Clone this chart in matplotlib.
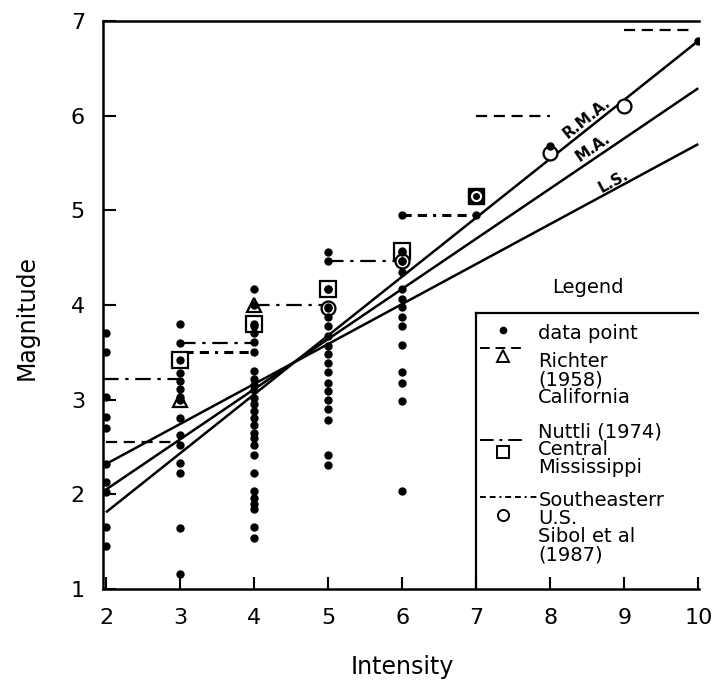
import numpy as np
import matplotlib
matplotlib.use('Agg')
import matplotlib.pyplot as plt

# Observed magnitudes for each intensity class
pts_i2 = [3.7, 3.5, 3.03, 2.82, 2.7, 2.32, 2.13, 2.02, 1.65, 1.45]
pts_i3 = [3.8, 3.6, 3.28, 3.2, 3.11, 3.03, 2.81, 2.63, 2.52, 2.33, 2.23, 1.64, 1.16]
pts_i4 = [4.17, 3.78, 3.70, 3.61, 3.50, 3.30, 3.22, 3.15, 3.10, 3.02, 2.95, 2.88,
          2.81, 2.73, 2.65, 2.59, 2.52, 2.42, 2.23, 2.04, 1.96, 1.90, 1.84, 1.65, 1.54]
pts_i5 = [4.56, 4.46, 4.17, 3.98, 3.87, 3.78, 3.67, 3.57, 3.48, 3.39, 3.29, 3.18,
          3.09, 3.00, 2.90, 2.79, 2.42, 2.31]
pts_i6 = [4.95, 4.56, 4.46, 4.35, 4.17, 4.06, 3.98, 3.87, 3.78, 3.58, 3.29, 3.18, 2.99, 2.03]
pts_i7 = [4.95, 5.15]
pts_i8 = [5.68]
pts_i10 = [6.79]

# Published relations
richter_i = [3, 4]
richter_m = [3.0, 4.0]
nuttli_i = [3, 4, 5, 6]
nuttli_m = [3.42, 3.80, 4.17, 4.57]
se_i = [5, 6, 8, 9]
se_m = [3.97, 4.46, 5.61, 6.1]
both_i = [7]
both_m = [5.15]

# Step levels (start intensity, end intensity, magnitude)
richter_steps = [(2, 3, 2.55), (7, 8, 6.0), (9, 9.9, 6.9)]
nuttli_steps = [(1.96, 3, 3.22), (3, 4, 3.6), (4, 5, 4.0), (5, 6, 4.46)]
se_steps = [(3.05, 4, 3.5), (6, 7, 4.95)]

# Fitted lines, end values at intensity 2 and 10
fit_i = [2, 10]
fit_rma = [1.81, 6.79]
fit_ma = [2.05, 6.29]
fit_ls = [2.32, 5.70]

RICHTER_DASH = (5, 3)
NUTTLI_DASH = (7, 3, 1.5, 3)
SE_DASH = (3, 2, 3, 2, 1, 2)

fig = plt.figure(figsize=(7.18, 6.82), dpi=100)
ax = fig.add_axes([103 / 718, 1 - 589 / 682, 596 / 718, 568 / 682])

columns = [(2, pts_i2), (3, pts_i3), (4, pts_i4), (5, pts_i5), (6, pts_i6),
           (7, pts_i7), (8, pts_i8), (10, pts_i10)]
for xi, vals in columns:
    ax.plot([xi] * len(vals), vals, 'o', color='black', ms=5, zorder=5)

for x0, x1, m in richter_steps:
    ax.plot([x0, x1], [m, m], color='black', lw=1.6, dashes=RICHTER_DASH)
for x0, x1, m in nuttli_steps:
    ax.plot([x0, x1], [m, m], color='black', lw=1.6, dashes=NUTTLI_DASH)
for x0, x1, m in se_steps:
    ax.plot([x0, x1], [m, m], color='black', lw=2.2, dashes=SE_DASH)

for vals in (fit_rma, fit_ma, fit_ls):
    ax.plot(fit_i, vals, color='black', lw=1.8, solid_capstyle='butt')

ax.plot(richter_i, richter_m, '^', ms=10, mfc='white', mec='black', mew=1.6, ls='none', zorder=4)
ax.plot(nuttli_i, nuttli_m, 's', ms=11, mfc='white', mec='black', mew=1.6, ls='none', zorder=4)
ax.plot(se_i, se_m, 'o', ms=10, mfc='white', mec='black', mew=1.6, ls='none', zorder=4)
ax.plot(both_i, both_m, 's', ms=11, mfc='black', mec='black', ls='none', zorder=4)
ax.plot(both_i, both_m, 'o', ms=7, mfc='white', mec='white', ls='none', zorder=5)
ax.plot(both_i, both_m, 'o', ms=4, color='black', ls='none', zorder=6)
# dots sitting inside the open symbols
ax.plot(richter_i + nuttli_i + se_i[:2], richter_m + nuttli_m + se_m[:2], 'o',
        color='black', ms=5, zorder=6)

# labels along the fitted lines
for label, vals, lx, ly in (('R.M.A.', fit_rma, 8.49, 5.97),
                            ('M.A.', fit_ma, 8.58, 5.66),
                            ('L.S.', fit_ls, 8.85, 5.30)):
    slope = (vals[1] - vals[0]) / (fit_i[1] - fit_i[0])
    ax.text(lx, ly, label, rotation=np.degrees(np.arctan(slope)),
            transform_rotates_text=True, rotation_mode='anchor',
            ha='center', va='center', fontsize=11, fontweight='bold')

# legend panel
ax.plot([7, 7], [1, 3.92], color='black', lw=1.6)
ax.plot([7, 10], [3.92, 3.92], color='black', lw=1.6)
ax.text(8.51, 4.19, 'Legend', ha='center', va='center', fontsize=14)
leg_kw = dict(ha='left', va='center', fontsize=14)
ax.plot(7.36, 3.74, 'o', color='black', ms=4.5)
ax.plot([7.05, 7.66], [3.55, 3.55], color='black', lw=1.4, dashes=RICHTER_DASH)
ax.text(7.84, 3.70, 'data point', **leg_kw)
ax.plot(7.36, 3.46, '^', ms=8, mfc='white', mec='black', mew=1.4)
for txt, yy in (('Richter', 3.40), ('(1958)', 3.21), ('California', 3.02)):
    ax.text(7.84, yy, txt, **leg_kw)
ax.plot([7.05, 7.66], [2.57, 2.57], color='black', lw=1.4, dashes=NUTTLI_DASH)
ax.plot(7.36, 2.45, 's', ms=8, mfc='white', mec='black', mew=1.4)
for txt, yy in (('Nuttli (1974)', 2.66), ('Central', 2.47), ('Mississippi', 2.28)):
    ax.text(7.84, yy, txt, **leg_kw)
ax.plot([7.05, 7.82], [1.97, 1.97], color='black', lw=1.4, dashes=SE_DASH)
ax.plot(7.36, 1.78, 'o', ms=8, mfc='white', mec='black', mew=1.4)
for txt, yy in (('Southeasterr', 1.94), ('U.S.', 1.75), ('Sibol et al', 1.55), ('(1987)', 1.36)):
    ax.text(7.84, yy, txt, **leg_kw)

ax.set_xlim(1.96, 10.01)
ax.set_ylim(1, 7)
ax.set_xticks(range(2, 11))
ax.set_xticklabels([str(v) for v in range(2, 11)])
ax.set_yticks(range(1, 8))
ax.spines['right'].set_visible(False)
for side in ('left', 'bottom', 'top'):
    ax.spines[side].set_linewidth(1.8)
ax.tick_params(axis='both', direction='in', length=9, width=1.5, labelsize=16)
ax.tick_params(axis='x', pad=14, top=False)
ax.tick_params(axis='y', pad=13, right=False)

fig.text(402 / 718, 1 - 667 / 682, 'Intensity', ha='center', va='center', fontsize=17)
fig.text(27 / 718, 1 - 318 / 682, 'Magnitude', ha='center', va='center',
         rotation=90, fontsize=17)

fig.savefig('out.png', dpi=100)
